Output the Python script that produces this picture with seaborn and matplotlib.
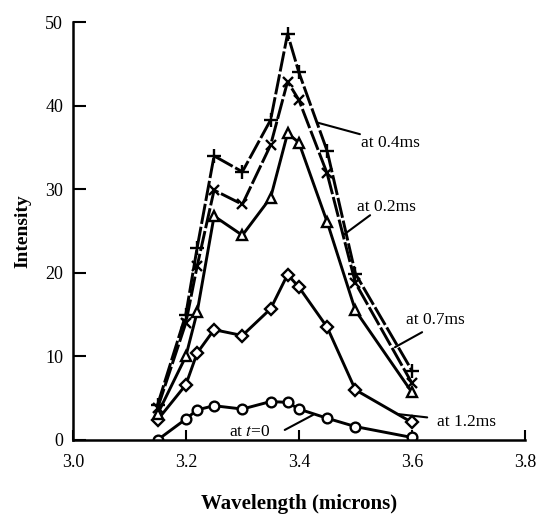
import matplotlib
matplotlib.use("Agg")
import matplotlib.pyplot as plt
import seaborn as sns
import pandas as pd
import numpy as np

# wavelength grid (microns), shared by every curve
wavelength = [3.15, 3.20, 3.22, 3.25, 3.30, 3.35, 3.38, 3.40, 3.45, 3.50, 3.60]

# intensities
at_t0 = [0.0, 2.5, 3.6, 4.1, 3.7, 4.6, 4.5, 3.7, 2.6, 1.6, 0.3]
at_02ms = [3.8, 14.0, 20.8, 29.9, 28.2, 35.3, 42.9, 40.7, 31.9, 18.8, 6.8]
at_04ms = [4.2, 15.0, 23.0, 34.0, 32.1, 38.3, 48.6, 44.0, 34.6, 19.9, 8.3]
at_07ms = [3.1, 10.0, 15.3, 26.8, 24.5, 29.0, 36.7, 35.6, 26.1, 15.5, 5.7]
at_12ms = [2.4, 6.6, 10.4, 13.2, 12.5, 15.7, 19.8, 18.3, 13.5, 6.0, 2.1]

x_ticks = [3.0, 3.2, 3.4, 3.6, 3.8]
y_ticks = [0, 10, 20, 30, 40, 50]

sns.set_style("ticks", {"axes.edgecolor": "black", "text.color": "black",
                        "axes.labelcolor": "black", "xtick.color": "black",
                        "ytick.color": "black"})
plt.rcParams["font.family"] = ["Liberation Serif", "DejaVu Serif"]
plt.rcParams["mathtext.fontset"] = "stix"

fig = plt.figure(figsize=(5.39, 5.17), dpi=100)
ax = fig.add_axes([0.135, 0.149, 0.839, 0.808])

dash = (0, (7, 1.0))
series = [
    (at_t0, "o", 7, "-", "white"),
    (at_12ms, "D", 6, "-", "white"),
    (at_07ms, "^", 7.5, "-", "white"),
    (at_02ms, "x", 7.5, dash, "black"),
    (at_04ms, "+", 10, dash, "black"),
]
for vals, mk, ms, ls, fc in series:
    sns.lineplot(x=wavelength, y=vals, ax=ax, color="black", lw=2.1,
                 linestyle=ls, marker=mk, markersize=ms,
                 markerfacecolor=fc, markeredgecolor="black",
                 markeredgewidth=1.7, errorbar=None)

ax.set_xlim(3.0, 3.8)
ax.set_ylim(0, 50)
ax.set_xticks(x_ticks)
ax.set_xticklabels([f"{v:.1f}" for v in x_ticks])
ax.set_yticks(y_ticks)
sns.despine(ax=ax)
for s in ["left", "bottom"]:
    ax.spines[s].set_linewidth(1.8)
ax.tick_params(axis="y", direction="in", length=9, width=1.5, labelsize=13, pad=7)
ax.tick_params(axis="x", direction="in", length=7, width=1.5, labelsize=13, pad=10)

ax.set_xlabel("Wavelength (microns)", fontsize=15, fontweight="bold", labelpad=17)
ax.set_ylabel("Intensity", fontsize=14, fontweight="bold", labelpad=10)

# curve labels with leader lines
notes = [
    ("at 0.4ms", (3.432, 38.0), (3.508, 36.6), (3.51, 35.5)),
    ("at 0.2ms", (3.478, 24.5), (3.526, 26.9), (3.503, 27.9)),
    ("at 0.7ms", (3.570, 11.1), (3.618, 12.9), (3.590, 14.4)),
    ("at 1.2ms", (3.575, 3.1), (3.627, 2.7), (3.644, 2.2)),
    ("at $t$=0", (3.425, 3.0), (3.375, 1.2), (3.276, 1.0)),
]
for txt, p0, p1, tp in notes:
    ax.annotate("", xy=p0, xytext=p1,
                arrowprops=dict(arrowstyle="-", lw=1.5, color="black",
                                shrinkA=0, shrinkB=0))
    ax.text(tp[0], tp[1], txt, fontsize=12.5, ha="left", va="center",
            color="black")

plt.savefig("out.png", dpi=100)
